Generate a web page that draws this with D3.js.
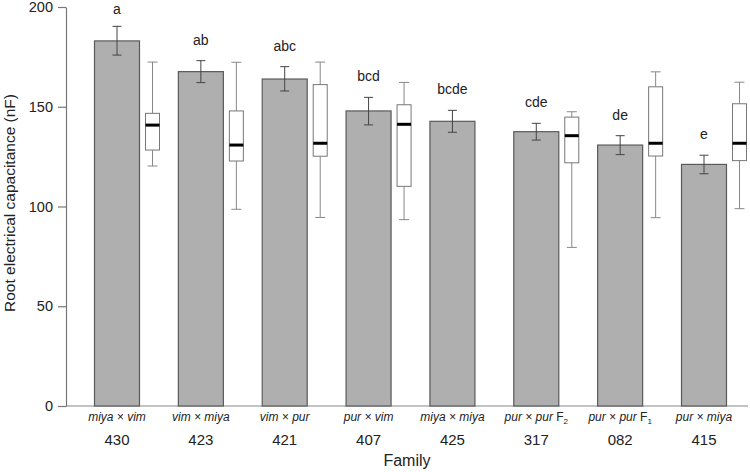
<!DOCTYPE html>
<html>
<head>
<meta charset="utf-8">
<script src="https://cdn.jsdelivr.net/npm/d3@7"></script>
<style>
  body { margin: 0; background: #fff; }
  svg { display: block; }
  text { font-family: "Liberation Sans", Arial, Helvetica, sans-serif; fill: #222; }
</style>
</head>
<body>
<svg id="chart" width="750" height="472"></svg>
<script>
// ---- data ----
const families = ["430", "423", "421", "407", "425", "317", "082", "415"];
const crosses = ["miya × vim", "vim × miya", "vim × pur", "pur × vim", "miya × miya", "pur × pur", "pur × pur", "pur × miya"];
const generations = ["", "", "", "", "", "2", "1", ""];
const means = [183.0, 167.6, 163.9, 147.9, 142.7, 137.5, 130.8, 121.1];
const errLow = [175.9, 162.1, 157.9, 140.9, 137.2, 133.3, 126.0, 116.4];
const errHigh = [190.3, 173.1, 170.1, 154.7, 148.2, 141.7, 135.5, 125.7];
const letters = ["a", "ab", "abc", "bcd", "bcde", "cde", "de", "e"];
// boxplots (null = none)
const whiskerLow = [120.3, 98.6, 94.5, 93.4, null, 79.5, 94.4, 98.9];
const q1 = [128.3, 122.8, 125.2, 110.1, null, 121.9, 125.3, 123.0];
const medians = [140.8, 130.8, 131.7, 141.2, null, 135.5, 131.7, 131.7];
const q3 = [146.7, 147.9, 161.1, 151.0, null, 144.8, 160.0, 151.5];
const whiskerHigh = [172.4, 172.3, 172.4, 162.2, null, 147.5, 167.5, 162.3];
const yTicks = [0, 50, 100, 150, 200];

// ---- scales ----
const svg = d3.select("#chart");
const x = d3.scalePoint().domain(families).range([117, 704]);
const y = d3.scaleLinear().domain([0, 200]).range([406, 7]);
const barW = 45, boxOff = 35.5, boxW = 14, capW = 9, wCapW = 10;

const rows = families.map((f, i) => ({
  f, cross: crosses[i], gen: generations[i], mean: means[i], lo: errLow[i], hi: errHigh[i],
  letter: letters[i], wl: whiskerLow[i], q1: q1[i], med: medians[i], q3: q3[i], wh: whiskerHigh[i]
}));

// baseline
svg.append("line")
  .attr("x1", 66).attr("x2", 748).attr("y1", y(0)).attr("y2", y(0))
  .attr("stroke", "#888").attr("stroke-width", 1.2);

// bars
svg.append("g").selectAll("rect").data(rows).join("rect")
  .attr("x", d => x(d.f) - barW / 2)
  .attr("width", barW)
  .attr("y", d => y(d.mean))
  .attr("height", d => y(0) - y(d.mean))
  .attr("fill", "#afafaf")
  .attr("stroke", "#5a5a5a")
  .attr("stroke-width", 1.2);

// error bars
const eg = svg.append("g").attr("stroke", "#444").attr("stroke-width", 1).attr("fill", "none");
rows.forEach(d => {
  const cx = x(d.f);
  eg.append("line").attr("x1", cx).attr("x2", cx).attr("y1", y(d.lo)).attr("y2", y(d.hi));
  eg.append("line").attr("x1", cx - capW / 2).attr("x2", cx + capW / 2).attr("y1", y(d.lo)).attr("y2", y(d.lo));
  eg.append("line").attr("x1", cx - capW / 2).attr("x2", cx + capW / 2).attr("y1", y(d.hi)).attr("y2", y(d.hi));
});

// letters
svg.append("g").selectAll("text").data(rows).join("text")
  .attr("x", d => x(d.f))
  .attr("y", d => Math.max(y(d.hi) - 16, 14))
  .attr("text-anchor", "middle")
  .attr("font-size", 14)
  .text(d => d.letter);

// boxplots
const bg = svg.append("g");
rows.filter(d => d.med !== null).forEach(d => {
  const cx = x(d.f) + boxOff;
  const g = bg.append("g");
  g.append("line").attr("x1", cx).attr("x2", cx).attr("y1", y(d.wl)).attr("y2", y(d.q1))
    .attr("stroke", "#888").attr("stroke-width", 1);
  g.append("line").attr("x1", cx).attr("x2", cx).attr("y1", y(d.q3)).attr("y2", y(d.wh))
    .attr("stroke", "#888").attr("stroke-width", 1);
  g.append("line").attr("x1", cx - wCapW / 2).attr("x2", cx + wCapW / 2).attr("y1", y(d.wl)).attr("y2", y(d.wl))
    .attr("stroke", "#888").attr("stroke-width", 1);
  g.append("line").attr("x1", cx - wCapW / 2).attr("x2", cx + wCapW / 2).attr("y1", y(d.wh)).attr("y2", y(d.wh))
    .attr("stroke", "#888").attr("stroke-width", 1);
  g.append("rect").attr("x", cx - boxW / 2).attr("width", boxW)
    .attr("y", y(d.q3)).attr("height", y(d.q1) - y(d.q3))
    .attr("fill", "#fff").attr("stroke", "#777").attr("stroke-width", 1);
  g.append("line").attr("x1", cx - boxW / 2).attr("x2", cx + boxW / 2).attr("y1", y(d.med)).attr("y2", y(d.med))
    .attr("stroke", "#000").attr("stroke-width", 3);
});

// y axis
const yAxis = d3.axisLeft(y).tickValues(yTicks).tickSize(8).tickSizeOuter(0).tickPadding(5);
const ya = svg.append("g").attr("transform", "translate(66,0)").call(yAxis);
ya.select(".domain").attr("stroke", "#777").attr("stroke-width", 1.2);
ya.selectAll(".tick line").attr("stroke", "#777").attr("stroke-width", 1.2);
ya.selectAll(".tick text").attr("font-size", 14.5).attr("fill", "#222")
  .attr("font-family", "'Liberation Sans', Arial, sans-serif");

// y label
svg.append("text")
  .attr("transform", "translate(15,203) rotate(-90)")
  .attr("text-anchor", "middle")
  .attr("font-size", 15.5)
  .text("Root electrical capacitance (nF)");

// x category labels
const xl = svg.append("g").selectAll("text").data(rows).join("text")
  .attr("x", d => x(d.f))
  .attr("y", 421)
  .attr("text-anchor", "middle")
  .attr("font-size", 12);
xl.append("tspan").attr("font-style", "italic").text(d => d.cross);
xl.filter(d => d.gen !== "").append("tspan").text(" F");
xl.filter(d => d.gen !== "").append("tspan").attr("font-size", 8).attr("dy", 3).text(d => d.gen);

svg.append("g").selectAll("text").data(rows).join("text")
  .attr("x", d => x(d.f))
  .attr("y", 445)
  .attr("text-anchor", "middle")
  .attr("font-size", 15)
  .text(d => d.f);

// x title
svg.append("text")
  .attr("x", 407).attr("y", 466)
  .attr("text-anchor", "middle")
  .attr("font-size", 16)
  .text("Family");
</script>
</body>
</html>
